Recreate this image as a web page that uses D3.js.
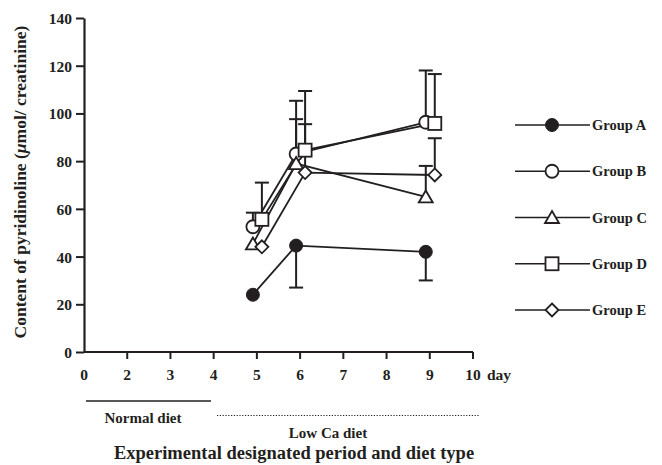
<!DOCTYPE html>
<html>
<head>
<meta charset="utf-8">
<script src="https://cdn.jsdelivr.net/npm/d3@7"></script>
<style>
  html, body { margin: 0; padding: 0; background: #fff; }
  svg { display: block; }
  text { font-family: "Liberation Serif", "DejaVu Serif", serif; font-weight: bold; fill: #231f20; }
</style>
</head>
<body>
<svg id="chart" width="662" height="465"></svg>
<script>
// Sampling days and axis ticks (the "1" tick is not shown on the day axis)
const days = [5, 6, 9];
const dayTicks = [0, 2, 3, 4, 5, 6, 7, 8, 9, 10];
const yTicks = [0, 20, 40, 60, 80, 100, 120, 140];

const groups = ["Group A", "Group B", "Group C", "Group D", "Group E"];
// Mean pyridinoline content per group on days 5, 6, 9
const groupA = [24, 44.6, 42];
const groupB = [52.5, 83, 96.3];
const groupC = [45.3, 79, 65];
const groupD = [55.6, 84.6, 95.8];
const groupE = [44.1, 75.2, 74.2];
// Standard deviations (null = not drawn)
const sdA = [null, 17.6, 12];
const sdB = [5.9, 22.3, 21.7];
const sdC = [null, 18.6, 13];
const sdD = [15.4, 24.8, 20.7];
const sdE = [null, 20.3, 15.4];

const series = [
  { name: groups[0], values: groupA, sd: sdA, dir: -1, marker: "filledCircle", dodge: -1 },
  { name: groups[1], values: groupB, sd: sdB, dir: 1, marker: "circle", dodge: -1 },
  { name: groups[2], values: groupC, sd: sdC, dir: 1, marker: "triangle", dodge: -1 },
  { name: groups[3], values: groupD, sd: sdD, dir: 1, marker: "square", dodge: 1 },
  { name: groups[4], values: groupE, sd: sdE, dir: 1, marker: "diamond", dodge: 1 }
];

const ink = "#231f20";
const svg = d3.select("#chart");

const x = d3.scaleLinear().domain([1, 10]).range([84, 473]);
const y = d3.scaleLinear().domain([0, 140]).range([352, 18]);
const dayPos = d => x(Math.max(d, 1));
const dodgePx = s => s.dodge < 0 ? -4 : 5;

// Y axis
const yAxis = svg.append("g").attr("transform", "translate(84,0)")
  .call(d3.axisLeft(y).tickValues(yTicks).tickSize(8).tickPadding(4).tickSizeOuter(0));
yAxis.select(".domain").attr("stroke", ink).attr("stroke-width", 2.2);
yAxis.selectAll(".tick line").attr("stroke", ink).attr("stroke-width", 2);
yAxis.selectAll(".tick text").style("font-size", "15.5px").attr("fill", ink).attr("dy", "0.35em");

// X axis
const xAxis = svg.append("g").attr("transform", "translate(0,352)");
xAxis.append("line").attr("x1", dayPos(0)).attr("x2", dayPos(10))
  .attr("stroke", ink).attr("stroke-width", 2.2);
xAxis.selectAll("line.tick").data(dayTicks.filter(d => d > 0)).join("line")
  .attr("class", "tick")
  .attr("x1", d => dayPos(d)).attr("x2", d => dayPos(d))
  .attr("y1", 0).attr("y2", 7)
  .attr("stroke", ink).attr("stroke-width", 2);
xAxis.selectAll("text").data(dayTicks).join("text")
  .attr("x", d => dayPos(d)).attr("y", 28)
  .attr("text-anchor", "middle").style("font-size", "15.5px")
  .text(d => d);
svg.append("text").attr("x", 487).attr("y", 380).style("font-size", "15.5px").text("day");

// Y axis title
svg.append("text")
  .attr("transform", "translate(26,182) rotate(-90)")
  .attr("text-anchor", "middle").style("font-size", "17.5px")
  .call(t => {
    t.append("tspan").text("Content of pyridinoline (");
    t.append("tspan").style("font-style", "italic").text("μ");
    t.append("tspan").text("mol/ creatinine)");
  });

// Diet period annotations
svg.append("line").attr("x1", 86).attr("x2", 211).attr("y1", 401).attr("y2", 401)
  .attr("stroke", ink).attr("stroke-width", 1.5);
svg.append("line").attr("x1", 217).attr("x2", 479).attr("y1", 415.5).attr("y2", 415.5)
  .attr("stroke", ink).attr("stroke-width", 1.2).attr("stroke-dasharray", "1.2,1.6");
svg.append("text").attr("x", 143).attr("y", 423).attr("text-anchor", "middle")
  .style("font-size", "15px").text("Normal diet");
svg.append("text").attr("x", 328).attr("y", 438).attr("text-anchor", "middle")
  .style("font-size", "15px").text("Low Ca diet");
svg.append("text").attr("x", 294).attr("y", 459).attr("text-anchor", "middle")
  .style("font-size", "18.5px").text("Experimental designated period and diet type");

// Marker drawing
function drawMarker(g, type) {
  const stroke = ink, sw = 1.8;
  if (type === "filledCircle") {
    g.append("circle").attr("r", 6.5).attr("fill", ink).attr("stroke", ink).attr("stroke-width", 1);
  } else if (type === "circle") {
    g.append("circle").attr("r", 6.5).attr("fill", "#fff").attr("stroke", stroke).attr("stroke-width", sw);
  } else if (type === "triangle") {
    g.append("path").attr("d", "M0,-6.5L7,5.5L-7,5.5Z").attr("fill", "#fff").attr("stroke", stroke).attr("stroke-width", sw);
  } else if (type === "square") {
    g.append("rect").attr("x", -6.5).attr("y", -6.5).attr("width", 13).attr("height", 13)
      .attr("fill", "#fff").attr("stroke", stroke).attr("stroke-width", sw);
  } else if (type === "diamond") {
    g.append("path").attr("d", "M0,-6.5L6.5,0L0,6.5L-6.5,0Z").attr("fill", "#fff").attr("stroke", stroke).attr("stroke-width", sw);
  }
}

const line = d3.line();
const plot = svg.append("g");

// Connecting lines
series.forEach(s => {
  const pts = days.map((d, i) => [dayPos(d) + dodgePx(s), y(s.values[i])]);
  plot.append("path").attr("d", line(pts)).attr("fill", "none")
    .attr("stroke", ink).attr("stroke-width", 1.8);
});

// Error bars
series.forEach(s => {
  days.forEach((d, i) => {
    if (s.sd[i] == null) return;
    const cx = dayPos(d) + dodgePx(s);
    const y0 = y(s.values[i]);
    const y1 = y(s.values[i] + s.dir * s.sd[i]);
    plot.append("line").attr("x1", cx).attr("x2", cx).attr("y1", y0).attr("y2", y1)
      .attr("stroke", ink).attr("stroke-width", 2);
    plot.append("line").attr("x1", cx - 7).attr("x2", cx + 7).attr("y1", y1).attr("y2", y1)
      .attr("stroke", ink).attr("stroke-width", 2);
  });
});

// Markers
series.forEach(s => {
  days.forEach((d, i) => {
    const g = plot.append("g")
      .attr("transform", `translate(${dayPos(d) + dodgePx(s)},${y(s.values[i])})`);
    drawMarker(g, s.marker);
  });
});

// Legend
const legendY = d3.scalePoint().domain(groups).range([125, 310]);
series.forEach(s => {
  const ly = legendY(s.name);
  const g = svg.append("g").attr("transform", `translate(0,${ly})`);
  g.append("line").attr("x1", 515).attr("x2", 590).attr("y1", 0).attr("y2", 0)
    .attr("stroke", ink).attr("stroke-width", 1.6);
  drawMarker(g.append("g").attr("transform", "translate(552,0)"), s.marker);
  g.append("text").attr("x", 592).attr("y", 5).style("font-size", "14.5px").text(s.name);
});
</script>
</body>
</html>
